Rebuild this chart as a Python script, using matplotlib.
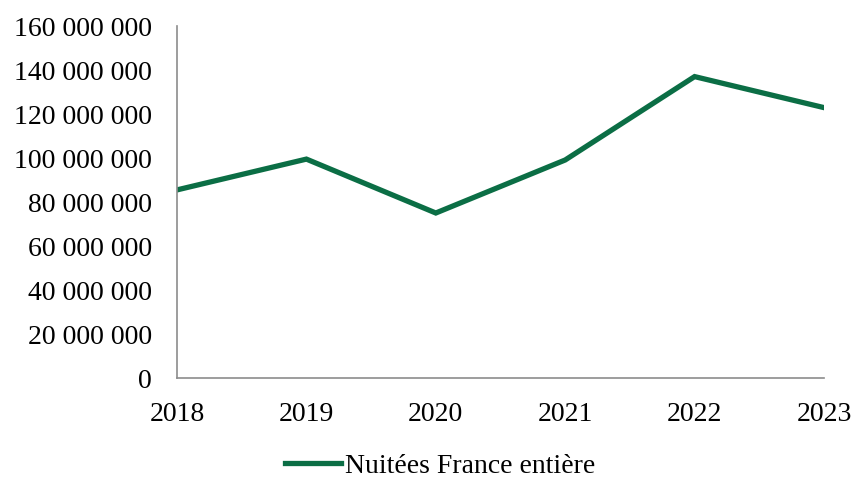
import matplotlib
matplotlib.use("Agg")
import matplotlib.pyplot as plt
from matplotlib.ticker import FuncFormatter

years = ["2018", "2019", "2020", "2021", "2022", "2023"]
nuitees = [85.5e6, 99.5e6, 75.0e6, 99.1e6, 137.0e6, 122.9e6]
series_label = "Nuitées France entière"
y_ticks = [0, 20e6, 40e6, 60e6, 80e6, 100e6, 120e6, 140e6, 160e6]

plt.rcParams['font.family'] = ['Liberation Serif', 'DejaVu Serif']

fig = plt.figure(figsize=(8.54, 4.78), dpi=100)
ax = fig.add_axes([177/854, 1-378/478, (824-177)/854, (378-26)/478])

x = list(range(len(years)))
ax.plot(x, nuitees, color="#0B6E45", linewidth=3.8, solid_joinstyle="miter", label=series_label)

ax.set_xlim(0, len(years)-1)
ax.set_ylim(0, 160e6)
ax.set_xticks(x)
ax.set_xticklabels(years)
ax.set_yticks(y_ticks)

def fmt(v, pos):
    s = f"{int(round(v)):,}".replace(",", " ")
    return s
ax.yaxis.set_major_formatter(FuncFormatter(fmt))

for s in ["top", "right"]:
    ax.spines[s].set_visible(False)
for s in ["left", "bottom"]:
    ax.spines[s].set_color("#8C8C8C")
    ax.spines[s].set_linewidth(1.2)
ax.tick_params(axis="both", length=0, labelsize=20, colors="black")
ax.tick_params(axis="y", pad=18)
ax.tick_params(axis="x", pad=17)

leg = fig.legend(loc="center", bbox_to_anchor=(440/854, 1-466/478), frameon=False,
                 fontsize=20, handlelength=2.0, handletextpad=0.15)

fig.savefig("out.png", dpi=100)
